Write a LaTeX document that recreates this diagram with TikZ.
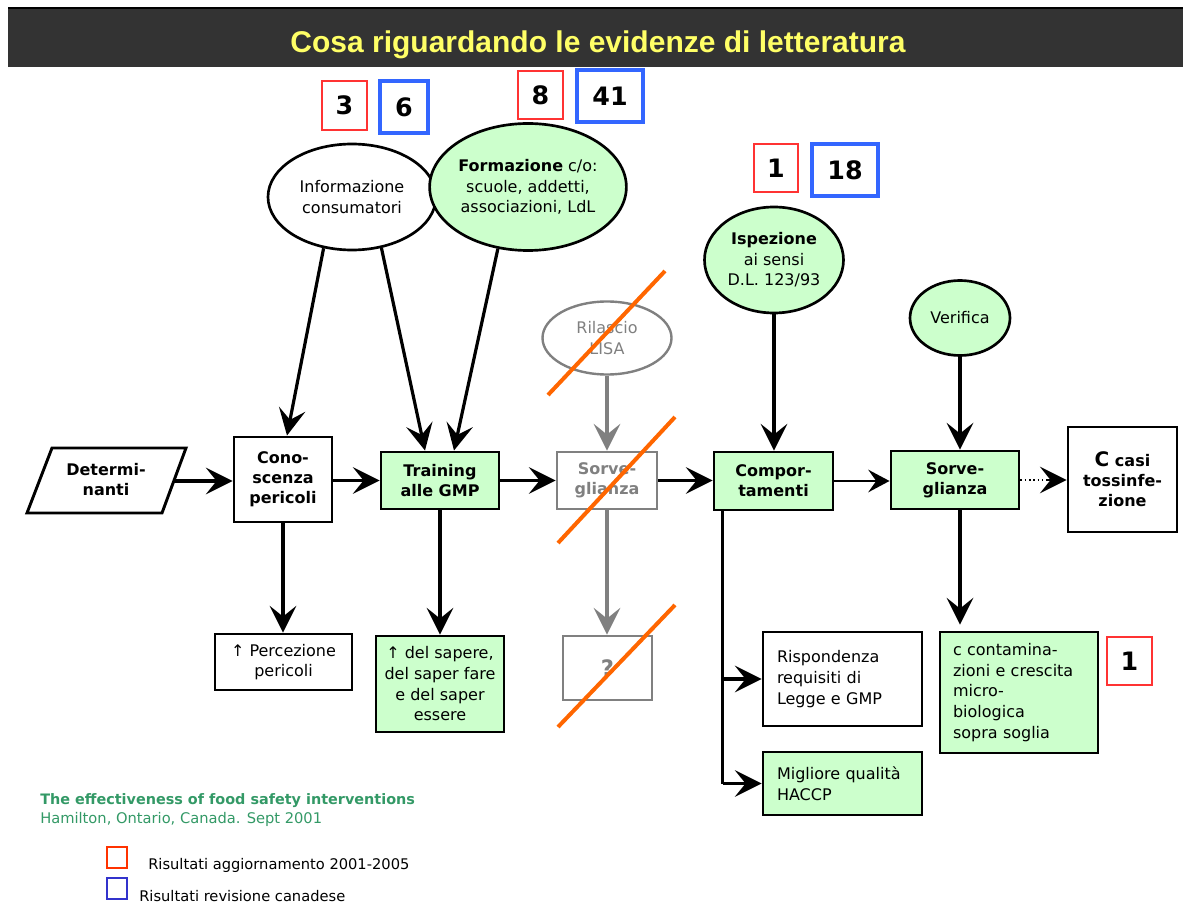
\documentclass[tikz,border=0pt]{standalone}
\usepackage{fontspec}
\setmainfont{DejaVu Sans}
\newfontfamily\titlefont{Liberation Sans}
\usetikzlibrary{arrows.meta,shapes.geometric,calc}
\definecolor{lgreen}{HTML}{CCFFCC}
\definecolor{barc}{HTML}{333333}
\definecolor{ttl}{HTML}{FFFF66}
\definecolor{rboxc}{HTML}{FF3333}
\definecolor{bboxc}{HTML}{3366FF}
\definecolor{strikec}{HTML}{FF6600}
\definecolor{gtext}{HTML}{339966}
\definecolor{gry}{HTML}{808080}
\definecolor{legred}{HTML}{FF3300}
\definecolor{legblue}{HTML}{3333CC}
\begin{document}
\begin{tikzpicture}[x=0.75pt,y=-0.75pt,
  wh/.style 2 args={minimum width=#1*0.75pt, minimum height=#2*0.75pt},
  reg/.style={font=\fontsize{12}{15.5}\selectfont},
  box/.style={draw, line width=2.2pt, align=center, inner sep=0pt, font=\bfseries\fontsize{12}{15}\selectfont},
  gbox/.style={box, fill=lgreen},
  graybox/.style={box, draw=gry, text=gry},
  lbox/.style={draw, line width=2.2pt, align=left, inner ysep=0pt, font=\fontsize{12}{15.5}\selectfont},
  ell/.style={ellipse, draw, line width=2pt, inner sep=0pt, align=center, font=\fontsize{12}{15.5}\selectfont},
  arr/.style={line width=2.4pt, -{Stealth[length=20pt,width=20pt,inset=8pt]}},
  thinarr/.style={line width=1pt, -{Stealth[length=16pt,width=17pt,inset=6pt]}},
  dotarr/.style={line width=1.2pt, -{Stealth[length=20pt,width=20pt,inset=8pt]}},
  rnum/.style={draw=rboxc, line width=1pt, inner sep=0pt, font=\bfseries\fontsize{19}{19}\selectfont},
  bnum/.style={draw=bboxc, line width=3pt, inner sep=0pt, font=\bfseries\fontsize{19}{19}\selectfont},
  strk/.style={draw=strikec, line width=3pt},
]
\useasboundingbox (0,0) rectangle (1183,905);

% title bar
\fill[barc] (8,8) rectangle (1183,67);
\draw[line width=1.5pt] (8,8) -- (1183,8);
\node[text=ttl, inner sep=0pt, font=\titlefont\bfseries\fontsize{22.5}{22.5}\selectfont] (title) at (598,45) {Cosa riguardando le evidenze di letteratura};

% number boxes
\node[rnum, wh={45}{49}] (n3) at (344.5,105.5) {3};
\node[bnum, wh={48}{52}] (n6) at (404,107) {6};
\node[rnum, wh={45}{48}] (n8) at (540.5,95) {8};
\node[bnum, wh={66}{52}] (n41) at (610,96) {41};
\node[rnum, wh={44}{48}] (n1a) at (776,168) {1};
\node[bnum, wh={66}{52}] (n18) at (845,170) {18};
\node[rnum, wh={45}{48}] (n1b) at (1129.5,661) {1};

% ellipses
\node[ell, wh={168}{106}] (info) at (352,197) {Informazione\\consumatori};
\node[ell, fill=lgreen, wh={182}{127}] (form) at (528,187) {\textbf{Formazione} c/o:\\scuole, addetti,\\associazioni, LdL};
\node[ell, draw=gry, text=gry, line width=1.8pt, wh={129}{73}] (ril) at (607,338) {Rilascio\\LISA};
\node[ell, fill=lgreen, wh={139}{106}] (isp) at (774,260) {\textbf{Ispezione}\\ai sensi\\D.L. 123/93};
\node[ell, fill=lgreen, wh={100}{75}] (verif) at (960,318) {Verifica};

% main row
\draw[line width=2.2pt, line join=miter] (52,448) -- (186,448) -- (162,513) -- (27,513) -- cycle;
\node[align=center, inner sep=0pt, font=\bfseries\fontsize{12}{15}\selectfont] (det) at (106,480) {Determi-\\nanti};
\coordinate (detE) at (174,481);
\node[box, wh={98}{85}] (cono) at (283,479.5) {Cono-\\scenza\\pericoli};
\node[gbox, wh={118}{57}] (train) at (440,480.5) {Training\\alle GMP};
\node[graybox, wh={100}{57}] (sorv1) at (607,480.5) {Sorve-\\glianza};
\node[gbox, wh={119}{58}] (comp) at (773.5,481) {Compor-\\tamenti};
\node[gbox, wh={128}{58}] (sorv2) at (955,480) {Sorve-\\glianza};
\node[box, wh={109}{105}] (casi) at (1122.5,479.5) {{\fontsize{15}{15}\selectfont C} casi\\tossinfe-\\zione};

% bottom boxes
\node[draw, line width=2.2pt, align=center, inner sep=0pt, reg, wh={137}{56}] (perc) at (283.5,662) {↑ Percezione\\pericoli};
\node[draw, fill=lgreen, line width=2.2pt, align=center, inner sep=0pt, reg, wh={128}{96}] (sap) at (440,684) {↑ del sapere,\\del saper fare\\e del saper\\essere};
\node[graybox, wh={89}{64}, font=\bfseries\fontsize{17}{17}\selectfont] (q) at (607.5,668) {?};
\node[lbox, text width=98.25pt, inner xsep=10.5pt, minimum height=94*0.75pt] (risp) at (842.5,679) {Rispondenza\\requisiti di\\Legge e GMP};
\node[lbox, fill=lgreen, text width=98.25pt, inner xsep=10.5pt, minimum height=63*0.75pt] (migl) at (842.5,783.5) {Migliore qualità\\HACCP};
\node[lbox, fill=lgreen, text width=99pt, inner xsep=9.75pt, minimum height=121*0.75pt] (cont) at (1019,692.5) {c contamina-\\zioni e crescita\\micro-\\biologica\\sopra soglia};

% connectors main row
\draw[arr] (detE) -- (detE -| cono.west);
\draw[arr] (cono.east |- train.west) -- (train.west);
\draw[arr] (train.east) -- (train.east -| sorv1.west);
\draw[arr] (sorv1.east) -- (sorv1.east -| comp.west);
\draw[thinarr] (comp.east) -- (comp.east -| sorv2.west);
\draw[line width=1.2pt, dotted] (sorv2.east) -- ([xshift=-15pt]sorv2.east -| casi.west);
\draw[dotarr] ([xshift=-15pt]sorv2.east -| casi.west) -- (sorv2.east -| casi.west);

% vertical connectors
\draw[arr] (info.-119.5) -- ([xshift=3pt]cono.north);
\draw[arr] (info.-60) -- ([xshift=-11.25pt]train.north);
\draw[arr] (form.-116.6) -- ([xshift=10.5pt]train.north);
\draw[arr, gry] (ril.south) -- (sorv1.north);
\draw[arr] (isp.south) -- (isp.south |- comp.north);
\draw[arr] (verif.south) -- (verif.south |- sorv2.north);
\draw[arr] (cono.south) -- (cono.south |- perc.north);
\draw[arr] (train.south) -- (sap.north);
\draw[arr, gry] (sorv1.south) -- (sorv1.south |- q.north);
\draw[arr] (verif.south |- sorv2.south) -- ([yshift=4.5pt]verif.south |- cont.north);

% comportamenti branches
\coordinate (cb) at ([xshift=7.5pt]comp.south west);
\draw[line width=2.4pt] (cb) -- (cb |- migl.west);
\draw[arr] (cb |- risp.west) -- (risp.west);
\draw[arr] (cb |- migl.west) -- (migl.west);

% strike lines
\draw[strk] (548,395) -- (665,271);
\draw[strk] (558,543) -- (675,417);
\draw[strk] (558,727) -- (675,605);

% legend
\node[anchor=west, inner sep=0pt, text=gtext, font=\bfseries\fontsize{10.8}{13}\selectfont] (ref1) at (40,801) {The effectiveness of food safety interventions};
\node[anchor=west, inner sep=0pt, text=gtext, font=\fontsize{11}{13}\selectfont] (ref2) at (40,819) {Hamilton, Ontario, Canada. Sept 2001};
\draw[legred, line width=1pt] (107,847) rectangle (127,868);
\node[anchor=west, inner sep=0pt, font=\fontsize{11}{13}\selectfont] (leg1) at (148,865) {Risultati aggiornamento 2001-2005};
\draw[legblue, line width=1pt] (107,878) rectangle (127,899);
\node[anchor=west, inner sep=0pt, font=\fontsize{11}{13}\selectfont] (leg2) at (139,896) {Risultati revisione canadese};
\end{tikzpicture}
\end{document}
